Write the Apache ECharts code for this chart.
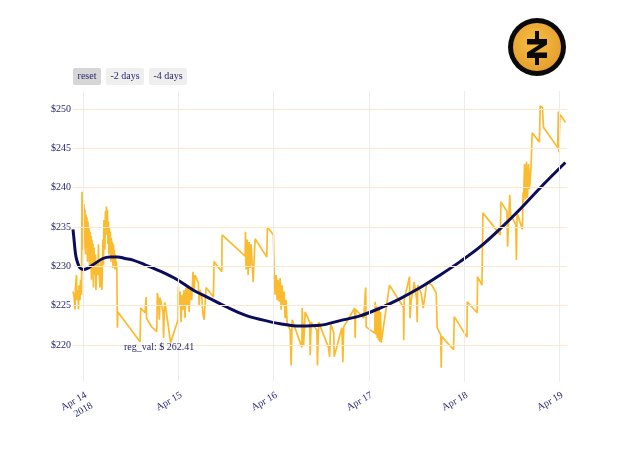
<!DOCTYPE html>
<html>
<head>
<meta charset="utf-8">
<script src="https://cdn.jsdelivr.net/npm/echarts@6/dist/echarts.min.js"></script>
<style>html,body{margin:0;padding:0;background:#fff;}#chart{width:640px;height:457px;}</style>
</head>
<body>
<div id="chart"></div>
<script>
// Hours since 2018-04-14 00:00 and price (USD)
const priceHours = [-2.52,-2.26,-2.01,-1.88,-1.63,-1.51,-1.26,-1.13,-1.00,-0.75,-0.63,-0.38,-0.25,-0.13,0.00,0.13,0.25,0.38,0.50,0.63,0.75,0.88,1.00,1.13,1.26,1.38,1.51,1.63,1.76,1.88,2.01,2.13,2.26,2.38,2.51,2.64,2.76,3.01,3.14,3.26,3.51,3.77,3.89,4.02,4.27,4.52,4.77,5.02,5.15,5.27,5.52,5.65,5.78,5.90,6.03,6.15,6.28,6.40,6.53,6.65,6.78,6.90,7.03,7.16,7.28,7.41,7.53,7.66,7.78,7.91,8.04,8.16,8.29,8.41,8.54,8.66,8.79,14.36,14.55,15.64,15.89,16.01,17.28,18.58,18.73,19.03,19.23,19.41,20.17,20.29,20.54,20.67,22.07,23.95,24.02,24.20,24.45,24.71,24.96,25.21,25.46,25.71,25.96,26.21,26.48,26.73,26.98,27.36,27.73,27.98,28.23,29.07,29.25,29.50,29.93,30.18,30.50,31.01,32.85,33.02,34.97,35.04,40.85,40.92,41.10,41.35,41.60,41.85,42.10,42.35,42.86,43.36,46.31,46.46,47.98,48.15,48.41,48.66,48.91,49.16,49.42,49.67,49.92,50.17,50.42,50.67,50.92,51.18,51.43,52.19,52.44,52.69,55.14,55.21,55.59,55.97,57.11,57.23,57.48,58.92,59.07,59.37,61.84,62.14,62.39,63.16,63.28,65.21,65.47,65.68,68.45,68.57,68.70,70.72,71.22,71.34,73.49,73.61,73.79,73.94,74.12,74.29,74.44,74.63,74.80,74.95,75.13,75.38,77.22,80.73,80.81,80.92,82.26,82.39,82.69,83.19,83.44,84.08,84.20,84.33,85.21,85.71,86.65,87.90,88.99,89.24,90.12,90.25,90.37,93.36,93.53,96.73,96.80,99.32,99.40,100.51,100.76,105.13,105.30,106.82,106.97,107.52,107.69,109.03,109.20,109.35,110.71,110.86,110.98,111.24,111.49,111.74,111.99,112.25,112.49,112.87,113.17,115.00,115.17,115.75,116.01,119.59,119.77,119.90,120.15,120.78,121.53];
const priceValues = [226.8,226.2,224.5,227.6,228.9,225.7,227.0,224.5,227.6,225.7,228.3,226.4,239.5,233.4,238.5,232.1,237.9,235.3,237.2,231.5,236.6,233.4,236.2,230.6,235.7,232.1,234.9,229.6,234.4,231.5,233.9,228.3,233.4,230.6,232.9,227.3,232.4,228.9,231.5,227.0,230.6,228.9,232.8,229.6,227.3,230.6,227.0,233.4,230.2,235.9,232.1,237.0,234.0,237.6,234.9,237.2,232.8,235.7,231.5,234.9,232.1,234.4,230.6,233.6,231.1,233.1,229.8,232.8,230.6,232.1,229.6,231.5,229.8,230.6,229.3,222.2,224.2,220.4,224.7,224.1,226.1,223.4,222.3,221.7,226.6,225.7,223.2,226.0,224.2,220.9,225.1,225.4,220.3,223.2,227.4,225.1,226.8,222.9,226.4,224.5,227.0,223.4,227.3,225.1,227.6,224.2,227.0,225.7,229.3,226.8,228.9,227.9,225.1,227.0,226.1,224.1,223.2,227.3,226.1,230.6,229.3,234.0,231.3,234.4,229.6,233.4,228.9,233.1,229.8,232.8,228.0,233.5,231.2,235.0,234.0,229.3,226.4,228.9,225.7,228.3,225.5,228.5,224.5,227.6,225.1,226.8,223.4,225.7,222.8,221.9,217.4,223.2,219.7,224.7,220.0,224.2,222.9,218.7,222.9,221.9,217.4,222.9,219.7,218.5,222.7,221.6,218.5,222.2,217.8,222.3,224.7,220.9,224.5,223.4,227.3,222.3,221.5,225.5,221.3,225.1,220.9,224.7,220.6,224.5,220.4,224.2,220.3,220.3,227.6,224.8,220.6,225.7,228.7,223.4,225.7,227.0,228.0,225.7,222.9,227.6,226.6,224.7,228.0,227.6,226.6,222.2,221.3,217.1,221.1,219.4,223.6,221.0,225.5,224.1,228.7,227.6,236.8,234.0,238.2,237.0,232.5,239.1,236.6,235.3,230.8,236.8,234.7,239.4,238.2,243.0,238.5,243.3,238.7,243.0,239.8,242.6,247.0,245.8,250.4,250.2,247.7,245.1,249.7,244.5,249.3,248.9,248.3];
const regHours = [-2.52,-2.26,-2.01,-1.76,-1.38,-0.75,0.00,1.00,2.51,5.02,6.78,8.79,10.59,12.60,15.64,19.41,23.45,27.73,32.02,36.30,40.84,45.13,49.67,54.71,59.75,64.78,69.80,74.88,79.92,84.97,89.99,95.01,100.09,105.13,110.17,115.21,121.53];
const regValues = [234.7,233.4,232.1,231.2,230.5,229.8,229.6,229.7,230.2,231.0,231.2,231.2,231.0,230.8,230.2,229.4,228.4,227.0,225.9,224.8,223.8,223.2,222.7,222.4,222.5,223.1,223.7,224.7,225.9,227.3,228.9,230.6,232.5,234.8,237.3,240.0,243.2];
const yTickValues = [220, 225, 230, 235, 240, 245, 250];
const xTickLabels = ['Apr 14\n2018', 'Apr 15', 'Apr 16', 'Apr 17', 'Apr 18', 'Apr 19'];
const buttonLabels = ['reset', '-2 days', '-4 days'];
const annotationText = 'reg_val: $ 262.41';

const HOUR = 3600000, DAY = 86400000;
const base = new Date(2018, 3, 14, 0, 0, 0).getTime();
const priceData = priceHours.map((h, i) => [base + h * HOUR, priceValues[i]]);
const regData = regHours.map((h, i) => [base + h * HOUR, regValues[i]]);

const txt = '#26266e';
const font = 'Liberation Serif';
const yMin = 215, yMax = 252.3;

const chart = echarts.init(document.getElementById('chart'), null, {renderer: 'canvas'});

const gridMarks = yTickValues.map(v => ({yAxis: v, lineStyle: {color: '#fde8cb', width: 1, type: 'solid'}}))
  .concat(xTickLabels.map((l, i) => [
    {coord: [base + i * DAY, 215.33], lineStyle: {color: '#ececec', width: 1, type: 'solid'}},
    {coord: [base + i * DAY, yMax]}
  ]));

const btnX = [73, 106, 149], btnW = [28, 38, 38];
const buttons = buttonLabels.map((l, i) => ({
  type: 'group', left: btnX[i], top: 68,
  children: [
    {type: 'rect', shape: {x: 0, y: 0, width: btnW[i], height: 17, r: 2}, style: {fill: i === 0 ? '#d6d6d6' : '#efefef'}},
    {type: 'text', x: btnW[i] / 2, y: 8.5, style: {text: l, fill: txt, font: '10px "Liberation Serif"', textAlign: 'center', textVerticalAlign: 'middle'}}
  ]
}));

const logo = {
  type: 'group', left: 508, top: 18,
  children: [
    {type: 'circle', shape: {cx: 29, cy: 29, r: 29}, style: {fill: '#0a0a0a'}},
    {type: 'circle', shape: {cx: 29, cy: 29, r: 24}, style: {fill: {type: 'radial', x: 0.45, y: 0.4, r: 0.7, colorStops: [{offset: 0, color: '#f6c043'}, {offset: 1, color: '#e39a2b'}]}}},
    {type: 'polygon', shape: {points: [[19,21],[39,21],[39,26.5],[26.5,34.5],[39,34.5],[39,40],[19,40],[19,34.5],[31.5,26.5],[19,26.5]]}, style: {fill: '#0a0a0a'}},
    {type: 'rect', shape: {x: 27, y: 13, width: 4, height: 8}, style: {fill: '#0a0a0a'}},
    {type: 'rect', shape: {x: 27, y: 40, width: 4, height: 7}, style: {fill: '#0a0a0a'}}
  ]
};

const option = {
  animation: false,
  backgroundColor: '#ffffff',
  grid: {left: 73, right: 73, top: 91, bottom: 72.7},
  xAxis: {
    type: 'time',
    min: base - 2.52 * HOUR,
    max: base + 121.94 * HOUR,
    minInterval: DAY, maxInterval: DAY,
    axisLine: {show: false}, axisTick: {show: false}, splitLine: {show: false},
    axisLabel: {
      rotate: 30, margin: 5, align: 'right', verticalAlign: 'top',
      color: txt, fontFamily: font, fontSize: 10, lineHeight: 12, hideOverlap: false,
      showMinLabel: true, showMaxLabel: true,
      formatter: function (v) {
        const d = new Date(v);
        if (d.getHours() !== 0 || d.getMinutes() !== 0) return '';
        const idx = Math.round((v - base) / DAY);
        return xTickLabels[idx] || '';
      }
    }
  },
  yAxis: {
    type: 'value', min: yMin, max: yMax, interval: 5,
    axisLine: {show: false}, axisTick: {show: false}, splitLine: {show: false},
    axisLabel: {
      margin: 2, color: txt, fontFamily: font, fontSize: 10,
      formatter: v => yTickValues.indexOf(v) >= 0 ? '$' + v : ''
    }
  },
  series: [
    {
      type: 'line', name: 'grid', data: [[base, 230]], symbol: 'none', silent: true, z: 1,
      lineStyle: {opacity: 0},
      markLine: {silent: true, symbol: ['none', 'none'], label: {show: false}, animation: false, data: gridMarks}
    },
    {
      type: 'line', name: 'price', data: priceData, showSymbol: false, symbol: 'none', z: 3,
      lineStyle: {color: '#fbbb2e', width: 1.7}
    },
    {
      type: 'line', name: 'reg', data: regData, showSymbol: false, symbol: 'none', smooth: 0.35, z: 4,
      lineStyle: {color: '#0c0c5c', width: 3}
    }
  ],
  graphic: buttons.concat([
    logo,
    {type: 'text', left: 124, top: 342, z: 100, style: {text: annotationText, fill: txt, font: '10px "Liberation Serif"'}}
  ])
};
chart.setOption(option);
</script>
</body>
</html>
